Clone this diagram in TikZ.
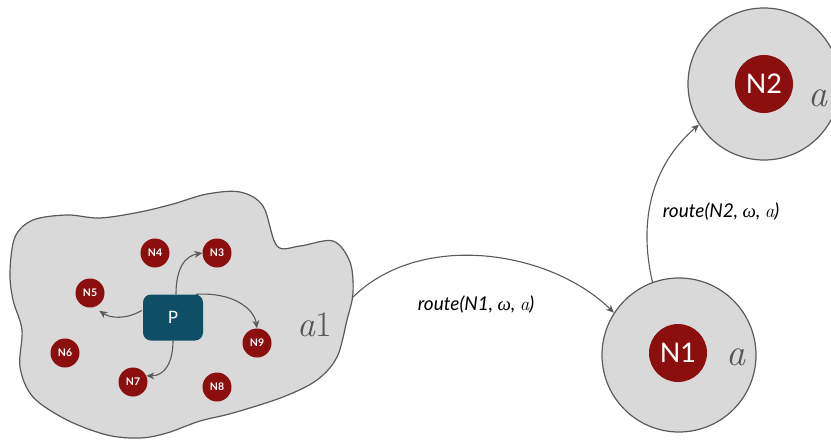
\documentclass[tikz,border=0pt]{standalone}
\usepackage{fontspec}
\setmainfont{Lato}
\newfontfamily\lmserif{Latin Modern Roman}
\newfontfamily\greekit{Liberation Serif}
\usetikzlibrary{arrows.meta,calc}
\definecolor{regiongray}{HTML}{D9D9D9}
\definecolor{edgegray}{HTML}{5A5A5A}
\definecolor{hostred}{HTML}{8C0F0F}
\definecolor{procblue}{HTML}{0E4F66}
\definecolor{labelgray}{HTML}{555555}
\newcommand{\omg}{{\greekit\itshape ω}}
\newcommand{\avar}{{\lmserif\itshape a}}
\begin{document}
\begin{tikzpicture}[x=1pt,y=-1pt,
  region/.style={fill=regiongray, draw=edgegray, line width=1.2pt},
  host/.style={circle, fill=hostred, text=white, inner sep=0pt, minimum size=29pt,
    font=\fontsize{10.5}{10.5}\selectfont\bfseries},
  bighost/.style={circle, fill=hostred, text=white, inner sep=0pt, minimum size=58pt,
    font=\fontsize{27}{27}\selectfont},
  proc/.style={rectangle, rounded corners=8pt, fill=procblue, text=white,
    minimum width=60pt, minimum height=46pt, font=\fontsize{17}{17}\selectfont},
  link/.style={draw=edgegray, line width=1.1pt, -{Stealth[length=8pt,width=7pt]}},
  lbl/.style={font=\fontsize{19}{19}\selectfont\itshape},
  areaname/.style={text=labelgray, inner sep=0pt}
]
\useasboundingbox (0,0) rectangle (831,442);

% local area a1
\draw[region] plot[smooth cycle, tension=0.55] coordinates {
  (15,237) (33,220) (67,215) (100,218) (140,212) (173,204) (207,194) (240,192)
  (263,206) (277,246) (300,246) (333,241) (350,262) (353,293) (347,320)
  (337,357) (317,380) (283,397) (233,413) (200,421) (167,433) (140,438)
  (107,435) (67,420) (33,397) (20,367) (22,330) (13,300) (10,272)};
\node[areaname, font=\fontsize{36}{36}\lmserif] (a1lbl) at (315,325) {\itshape a\upshape 1};
\coordinate (a1edge) at (352,298);

% process and hosts of a1
\node[proc] (P) at (173,317.5) {P};
\node[host] (n4) at (155,253) {N4};
\node[host] (n3) at (217,253) {N3};
\node[host] (n5) at (90,293) {N5};
\node[host] (n6) at (65,353) {N6};
\node[host] (n7) at (133,382) {N7};
\node[host] (n8) at (217,387) {N8};
\node[host] (n9) at (257,343) {N9};

\draw[link] ($(P.north)+(3,0)$) .. controls (176,268) and (185,256) .. (n3.west);
\draw[link] ($(P.north east)+(-7,0)$) .. controls (232,292) and (254,308) .. (n9.north);
\draw[link] ($(P.west)+(-1,-7)$) .. controls (125,320) and (110,318) .. ($(n5.-60)+(2,5)$);
\draw[link] (P.south) .. controls (173,362) and (165,376) .. (n7.25);

% remote area around N1
\node[region, circle, minimum size=154pt, inner sep=0pt] (r1) at (679,355) {};
\node[bighost] (N1) at (678,353) {N1};
\node[areaname, font=\fontsize{38}{38}\lmserif\itshape] (r1lbl) at (736,357) {a};

% remote area around N2
\node[region, circle, minimum size=152pt, inner sep=0pt] (r2) at (764,84) {};
\node[bighost] (N2) at (764,84) {N2};
\node[areaname, font=\fontsize{38}{38}\lmserif\itshape] (r2lbl) at (818,98) {a};

% routing steps
\draw[link] (a1edge) .. controls (420,230) and (550,250) .. (r1.147);
\node[lbl] (route1) at (476,305) {route(N1, \omg, \avar)};
\draw[link] (r1.110) .. controls (638,220) and (652,165) .. (r2.212);
\node[lbl] (route2) at (721,212) {route(N2, \omg, \avar)};
\end{tikzpicture}
\end{document}
